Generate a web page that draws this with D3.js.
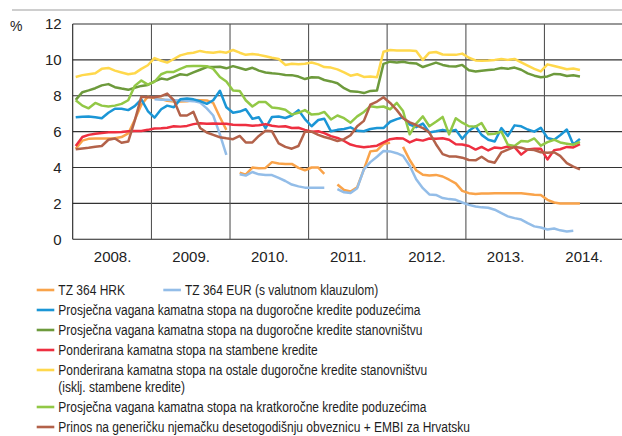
<!DOCTYPE html>
<html lang="hr">
<head>
  <meta charset="UTF-8">
  <title>Kamatne stope</title>
  <script src="https://d3js.org/d3.v7.min.js"></script>
  <style>
    body { margin: 0; background: #fff; }
    svg { display: block; }
  </style>
</head>
<body>

<script>
  // chart size
  const width = 622;
  const height = 436;

  // months: Jan 2008 - Jun 2014
  const months = d3.timeMonth.range(new Date(2008, 0, 1), new Date(2014, 6, 1));
  const years = [2008, 2009, 2010, 2011, 2012, 2013, 2014];
  const yTicks = [0, 2, 4, 6, 8, 10, 12];

  // series, monthly values (null = no data)
  const tzHrk = [5.05, 5.5, 5.6, 5.62, 5.62, 5.62, 5.63, 5.7, 5.9, 6.65, 7.5, 7.95,
    7.88, 7.82, 7.72, 7.68, 7.68, 7.7, 7.76, 7.75, 7.74, 7.6, 6.8, 6.1,
    null, 3.72, 3.6, 4.0, 3.96, 3.98, 4.3, 4.22, 4.2, 4.2, 3.98, 3.85,
    4.0, 4.0, 3.65, null, 3.05, 2.75, 2.66, 2.9, 3.9, 4.9, 4.95, 5.32,
    5.38, null, 5.15, 4.42, 3.85, 3.6, 3.55, 3.59, 3.5, 3.32, 3.12, 2.7,
    2.57, 2.53, 2.55, 2.55, 2.56, 2.56, 2.56, 2.56, 2.56, 2.53, 2.48, 2.47,
    2.2, 2.05, 2.0, 2.0, 2.0, 2.0];
  const tzEur = [null, null, null, null, null, null, null, null, null, null, null, null,
    7.8, 7.78, 7.78, 7.75, 7.75, 7.72, 7.7, 7.62, 7.3, 6.9, 5.85, 4.7,
    null, 3.63, 3.55, 3.75, 3.62, 3.59, 3.58, 3.42, 3.25, 3.05, 2.95, 2.88,
    2.88, 2.88, 2.88, null, 2.8, 2.62, 2.58, 2.85, 3.9, 4.3, 4.6, 4.92,
    4.9, 4.8, 4.65, 4.1, 3.35, 2.85, 2.5, 2.47, 2.3, 2.24, 2.2, 2.05,
    1.92, 1.83, 1.78, 1.76, 1.65, 1.46, 1.28, 1.18, 1.1, 0.9, 0.72, 0.66,
    0.55, 0.6, 0.5, 0.44, 0.48, null];
  const dugPoduzeca = [6.8, 6.83, 6.84, 6.8, 6.75, 7.05, 7.28, 7.28, 7.2, 7.42, 7.8, 7.15,
    6.78, 7.25, 7.45, 7.36, 7.8, 7.85, 7.8, 7.7, 7.55, 7.75, 8.28, 7.36,
    7.05, 7.12, 7.25, 6.72, 6.8, 6.2, 6.82, 6.84, 6.76, 6.9, 7.2, 6.7,
    6.3, 6.65, 6.72, 6.02, 6.1, 6.15, 6.24, 6.05, 6.02, 6.15, 6.2, 6.2,
    6.55, 6.7, 6.8, 6.4, 6.25, 6.45, 5.95, 6.02, 6.1, 6.02, 6.1, 5.6,
    6.05, 6.3, 5.82, 5.55, 5.45, 6.2, 5.76, 6.35, 6.3, 6.12, 6.0, 6.22,
    5.65, 5.55, 5.8, 6.12, 5.28, 5.6];
  const dugStanovnistvo = [7.77, 8.2, 8.3, 8.42, 8.58, 8.65, 8.48, 8.4, 8.33, 8.45, 8.55, 8.6,
    8.8, 8.96, 8.9, 9.05, 9.2, 9.15, 9.3, 9.45, 9.6, 9.6, 9.62, 9.53,
    9.65, 9.55, 9.45, 9.56, 9.4, 9.3, 9.25, 9.22, 9.16, 9.15, 9.07, 8.93,
    9.03, 9.02, 8.88, 8.8, 8.7, 8.42, 8.25, 8.23, 8.15, 8.27, 8.3, 9.78,
    9.9, 9.85, 9.9, 9.82, 9.8, 9.6, 9.72, 9.85, 9.72, 9.64, 9.63, 9.72,
    9.42, 9.35, 9.4, 9.44, 9.47, 9.55, 9.5, 9.57, 9.45, 9.25, 9.12, 9.03,
    9.08, 9.22, 9.2, 9.1, 9.14, 9.07];
  const stambeni = [5.2, 5.7, 5.82, 5.88, 5.92, 5.96, 5.97, 5.98, 6.02, 6.03, 6.04, 6.1,
    6.18, 6.19, 6.22, 6.3, 6.28, 6.32, 6.42, 6.47, 6.44, 6.45, 6.44, 6.44,
    6.38, 6.37, 6.37, 6.33, 6.36, 6.42, 6.33, 6.28, 6.3, 6.2, 6.22, 6.1,
    6.0, 6.02, 5.92, 5.75, 5.65, 5.48, 5.28, 5.18, 5.13, 5.17, 5.22, 5.4,
    5.58, 5.63, 5.62, 5.4, 5.56, 5.5, 5.62, 5.6, 5.63, 5.55, 5.3, 5.28,
    5.2, 5.0, 5.15, 4.95, 5.12, 5.08, 5.17, 5.14, 4.72, 5.0, 5.05, 5.05,
    4.45, 4.97, 5.02, 5.15, 5.12, 5.3];
  const ostaliStanovnistvo = [9.05, 9.15, 9.2, 9.25, 9.5, 9.55, 9.4, 9.3, 9.2, 9.25, 9.5, 9.7,
    10.1, 9.95, 9.85, 10.05, 10.25, 10.35, 10.4, 10.5, 10.42, 10.4, 10.45, 10.4,
    10.55, 10.4, 10.28, 10.33, 10.28, 10.2, 10.12, 10.05, 9.72, 9.78, 9.76, 9.78,
    9.85, 9.75, 9.6, 9.57, 9.47, 9.3, 9.12, 9.2, 9.05, 9.07, 9.03, 10.45,
    10.55, 10.52, 10.52, 10.52, 10.5, 10.0, 10.4, 10.44, 10.3, 10.28, 10.28, 10.35,
    10.12, 9.97, 9.95, 9.96, 10.0, 10.05, 10.0, 10.05, 9.86, 9.68, 9.5, 9.36,
    9.75, 9.66, 9.58, 9.48, 9.52, 9.44];
  const kratPoduzeca = [7.75, 7.45, 7.3, 7.6, 7.45, 7.4, 7.45, 7.55, 7.75, 8.55, 8.85, 8.62,
    8.78, 9.2, 9.33, 9.33, 9.5, 9.65, 9.66, 9.66, 9.65, 9.5, 9.05, 8.8,
    8.3, 8.27, 7.75, 7.4, 7.65, 7.65, 7.35, 7.3, 7.22, 6.95, 7.05, 7.2,
    6.95, 6.98, 7.1, 6.68, 6.9, 6.75, 6.5, 6.85, 7.1, 7.42, 7.36, 7.4,
    7.25, 7.6, 7.15, 5.85, 6.45, 6.85, 6.3, 6.55, 6.82, 5.85, 6.75, 6.5,
    6.3, 6.28, 6.48, 5.85, 5.88, 6.0, 5.27, 5.2, 5.48, 5.45, 5.62, 5.22,
    5.42, 5.55, 5.4, 5.33, 5.27, 5.43];
  const prinos = [5.02, 5.06, 5.1, 5.16, 5.2, 5.55, 5.62, 5.38, 5.45, 6.6, 7.95, 7.92,
    7.92, 7.98, 8.12, 7.75, 6.9, 6.9, 7.1, 6.2, 5.95, 5.82, 5.69, 5.63,
    5.58, 5.76, 5.4, 5.4, 5.76, 6.05, 6.02, 5.35, 5.15, 5.05, 5.2, 6.0,
    6.0, 5.82, 5.7, 5.6, 5.48, 5.58, 5.8, 6.3, 6.6, 7.5, 7.68, 7.92,
    7.6, 7.2, 6.75, 6.52, 6.37, 6.2, 5.95, 5.3, 4.75, 4.62, 4.62, 4.55,
    4.42, 4.4, 4.6, 4.35, 4.27, 4.85, 5.0, 5.15, 5.1, 5.0, 4.98, 4.85,
    4.83, 4.85, 4.65, 4.25, 4.05, 3.9];

  const seriesNames = [
    'TZ 364 HRK',
    'TZ 364 EUR (s valutnom klauzulom)',
    'Prosječna vagana kamatna stopa na dugoročne kredite poduzećima',
    'Prosječna vagana kamatna stopa na dugoročne kredite stanovništvu',
    'Ponderirana kamatna stopa na stambene kredite',
    'Ponderirana kamatna stopa na ostale dugoročne kredite stanovništvu|(isklj. stambene kredite)',
    'Prosječna vagana kamatna stopa na kratkoročne kredite poduzećima',
    'Prinos na generičku njemačku desetogodišnju obveznicu + EMBI za Hrvatsku'
  ];
  const seriesValues = [tzHrk, tzEur, dugPoduzeca, dugStanovnistvo, stambeni,
    ostaliStanovnistvo, kratPoduzeca, prinos];
  const seriesColors = ['#f9a34a', '#93bde8', '#1b96d6', '#6d9a3c', '#ee2f40',
    '#ffd84c', '#92c846', '#b3624a'];

  const svg = d3.select('body').append('svg')
    .attr('width', width)
    .attr('height', height);

  const margin = { left: 72.7, right: 623, top: 24, bottom: 239.3 };

  const x = d3.scaleTime()
    .domain([new Date(2008, 0, 1), new Date(2015, 0, 1)])
    .range([margin.left, margin.right]);
  const y = d3.scaleLinear()
    .domain([0, 12])
    .range([margin.bottom, margin.top]);

  const font = '"Liberation Sans", Arial, sans-serif';

  // rule on top
  svg.append('line')
    .attr('x1', 12).attr('x2', width)
    .attr('y1', 10).attr('y2', 10)
    .attr('stroke', '#9d9d9d')
    .attr('stroke-width', 1.2);

  // horizontal grid
  svg.append('g')
    .selectAll('line')
    .data(yTicks)
    .join('line')
    .attr('x1', margin.left).attr('x2', margin.right)
    .attr('y1', d => y(d)).attr('y2', d => y(d))
    .attr('stroke', d => d === 0 ? '#222' : '#333')
    .attr('stroke-width', 1.1);

  // vertical grid at year starts
  svg.append('g')
    .selectAll('line')
    .data(years)
    .join('line')
    .attr('x1', d => x(new Date(d, 0, 1))).attr('x2', d => x(new Date(d, 0, 1)))
    .attr('y1', margin.top).attr('y2', margin.bottom)
    .attr('stroke', d => d === 2008 ? '#222' : '#555')
    .attr('stroke-width', 1.1);

  // y axis labels
  const yAxis = d3.axisLeft(y).tickValues(yTicks).tickSize(0).tickPadding(11);
  svg.append('g')
    .attr('transform', `translate(${margin.left},0)`)
    .call(yAxis)
    .call(g => g.select('.domain').remove())
    .selectAll('text')
    .attr('font-family', font)
    .attr('font-size', 15)
    .attr('fill', '#222');

  svg.append('text')
    .attr('x', 10).attr('y', 31)
    .attr('font-family', font)
    .attr('font-size', 14)
    .attr('fill', '#222')
    .text('%');

  // x axis labels, centred in each year
  const xAxis = d3.axisBottom(x)
    .tickValues(years.map(d => new Date(d, 6, 2)))
    .tickFormat(d => d.getFullYear() + '.')
    .tickSize(0).tickPadding(12);
  svg.append('g')
    .attr('transform', `translate(0,${margin.bottom})`)
    .call(xAxis)
    .call(g => g.select('.domain').remove())
    .selectAll('text')
    .attr('font-family', font)
    .attr('font-size', 15)
    .attr('fill', '#222');

  // lines
  const line = d3.line()
    .defined(d => d.v != null)
    .x(d => x(d3.timeDay.offset(d.m, 14)))
    .y(d => y(d.v));

  seriesValues.forEach((vals, k) => {
    svg.append('path')
      .datum(months.map((m, i) => ({ m: m, v: vals[i] })))
      .attr('fill', 'none')
      .attr('stroke', seriesColors[k])
      .attr('stroke-width', 2.5)
      .attr('stroke-linejoin', 'round')
      .attr('d', line);
  });

  // legend (narrow type: regular face squeezed horizontally)
  const legend = svg.append('g');
  const rowStep = 20, wrapStep = 17;
  let rowY = 290;
  const items = [];
  seriesNames.forEach((name, k) => {
    if (k === 1) {
      items.push({ k, x: 163.3, y: 290 });
      return;
    }
    items.push({ k, x: 36.7, y: rowY });
    rowY += rowStep + (name.includes('|') ? wrapStep : 0);
  });

  items.forEach(it => {
    const g = legend.append('g');
    g.append('line')
      .attr('x1', it.x).attr('x2', it.x + 17.6)
      .attr('y1', it.y).attr('y2', it.y)
      .attr('stroke', seriesColors[it.k])
      .attr('stroke-width', 2.6);
    const parts = seriesNames[it.k].split('|');
    parts.forEach((p, j) => {
      g.append('text')
        .attr('transform', `translate(${it.x + 21.6},${it.y + j * wrapStep + 5.4}) scale(0.8,1)`)
        .attr('font-family', font)
        .attr('font-size', 15)
        .attr('fill', '#1e1e1e')
        .text(p);
    });
  });
</script>

</body>
</html>
